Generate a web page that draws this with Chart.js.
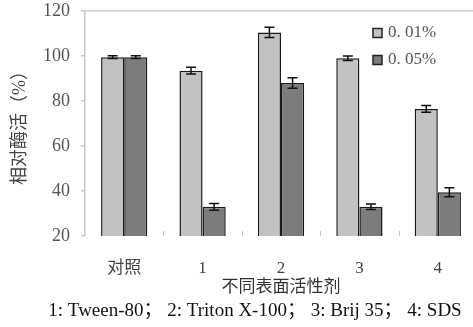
<!DOCTYPE html>
<html>
<head>
<meta charset="utf-8">
<script src="https://cdn.jsdelivr.net/npm/chart.js@4/dist/chart.umd.min.js"></script>
<style>
html,body{margin:0;padding:0;background:#fff;overflow:hidden;}
#wrap{width:473px;height:327px;overflow:hidden;position:relative;}
canvas{display:block;}
</style>
</head>
<body>
<div id="wrap"><canvas id="c" width="477" height="327" style="width:477px;height:327px"></canvas></div>
<script>
const categories = ['对照', '1', '2', '3', '4'];
const seriesLabels = ['0. 01%', '0. 05%'];
const values001 = [99.5, 93.5, 110.5, 99, 76.5];
const values005 = [99.5, 33, 88, 33, 39.5];
const errors001 = [0.6, 1.5, 2.3, 1.0, 1.5];
const errors005 = [0.6, 1.5, 2.3, 1.2, 2.0];
const yTicks = [20, 40, 60, 80, 100, 120];
const yTitle = '相对酶活（%）';
const xTitle = '不同表面活性剂';
const footer = '1: Tween-80； 2: Triton X-100； 3: Brij 35； 4: SDS';

const FONT = "'Liberation Serif', 'Noto Sans CJK SC', serif";
const errorSets = [errors001, errors005];

const errorBarPlugin = {
  id: 'errorBars',
  afterDatasetsDraw(chart) {
    const ctx = chart.ctx;
    const y = chart.scales.y;
    ctx.save();
    ctx.strokeStyle = '#111';
    ctx.lineWidth = 1.5;
    chart.data.datasets.forEach((ds, di) => {
      const meta = chart.getDatasetMeta(di);
      meta.data.forEach((bar, i) => {
        const v = ds.data[i], e = errorSets[di][i];
        const yt = y.getPixelForValue(v + e), yb = y.getPixelForValue(v - e);
        const cw = 5;
        ctx.beginPath();
        ctx.moveTo(bar.x, yt); ctx.lineTo(bar.x, yb);
        ctx.moveTo(bar.x - cw, yt); ctx.lineTo(bar.x + cw, yt);
        ctx.moveTo(bar.x - cw, yb); ctx.lineTo(bar.x + cw, yb);
        ctx.stroke();
      });
    });
    ctx.restore();
  }
};

const decorPlugin = {
  id: 'decor',
  afterDraw(chart) {
    const ctx = chart.ctx;
    const xs = chart.scales.x;
    const area = chart.chartArea;
    ctx.save();
    ctx.strokeStyle = '#c8c8c8';
    ctx.lineWidth = 1;
    for (let i = 1; i < categories.length; i++) {
      const px = Math.round((xs.getPixelForTick(i - 1) + xs.getPixelForTick(i)) / 2) + 0.5;
      ctx.beginPath();
      ctx.moveTo(px, area.bottom - 5);
      ctx.lineTo(px, area.bottom);
      ctx.stroke();
    }
    ctx.font = '17px ' + FONT;
    ctx.textBaseline = 'middle';
    chart.data.datasets.forEach((ds, di) => {
      const ly = 33 + di * 27;
      ctx.fillStyle = ds.backgroundColor;
      ctx.fillRect(373, ly - 4.5, 9, 9);
      ctx.strokeStyle = '#222';
      ctx.lineWidth = 1.5;
      ctx.strokeRect(373, ly - 4.5, 9, 9);
      ctx.fillStyle = '#555';
      ctx.textAlign = 'left';
      ctx.fillText(ds.label, 388, ly);
    });
    ctx.fillStyle = '#111';
    ctx.font = '19px ' + FONT;
    ctx.textAlign = 'center';
    ctx.textBaseline = 'middle';
    ctx.fillText(footer, 255, 311);
    ctx.restore();
  }
};

new Chart(document.getElementById('c'), {
  type: 'bar',
  data: {
    labels: categories,
    datasets: [
      { label: seriesLabels[0], data: values001, backgroundColor: '#c2c2c2', borderColor: '#1a1a1a', borderWidth: 1.5 },
      { label: seriesLabels[1], data: values005, backgroundColor: '#7c7c7c', borderColor: '#1a1a1a', borderWidth: 1.5 }
    ]
  },
  options: {
    responsive: false,
    animation: false,
    devicePixelRatio: 1,
    categoryPercentage: 0.59,
    barPercentage: 1.0,
    layout: { padding: { top: 11, right: 0, bottom: 0, left: 0 } },
    plugins: { legend: { display: false }, tooltip: { enabled: false } },
    scales: {
      x: {
        grid: { display: false, drawTicks: false },
        border: { display: false },
        ticks: { color: '#444', font: { family: FONT, size: 17 }, padding: 22 },
        title: { display: true, text: xTitle, color: '#333', font: { family: FONT, size: 17 }, padding: { top: 2, bottom: 29 } },
        afterFit(scale) { scale.height = 91; }
      },
      y: {
        min: 20, max: 120,
        afterBuildTicks(scale) { scale.ticks = yTicks.map(v => ({ value: v })); },
        grid: {
          color: ctx => (ctx.tick && ctx.tick.value === 120 ? '#cfcfcf' : 'rgba(0,0,0,0)'),
          tickColor: '#c8c8c8', tickLength: 4, lineWidth: 1.5
        },
        border: { display: true, color: '#c8c8c8', width: 1.5 },
        ticks: { color: '#555', font: { family: FONT, size: 18 }, padding: 11 },
        title: { display: true, text: yTitle, color: '#444', font: { family: FONT, size: 18 }, padding: { top: 9, bottom: 0 } },
        afterFit(scale) { scale.width = 85; scale.paddingTop = 0; scale.paddingBottom = 0; }
      }
    }
  },
  plugins: [errorBarPlugin, decorPlugin]
});
</script>
</body>
</html>
